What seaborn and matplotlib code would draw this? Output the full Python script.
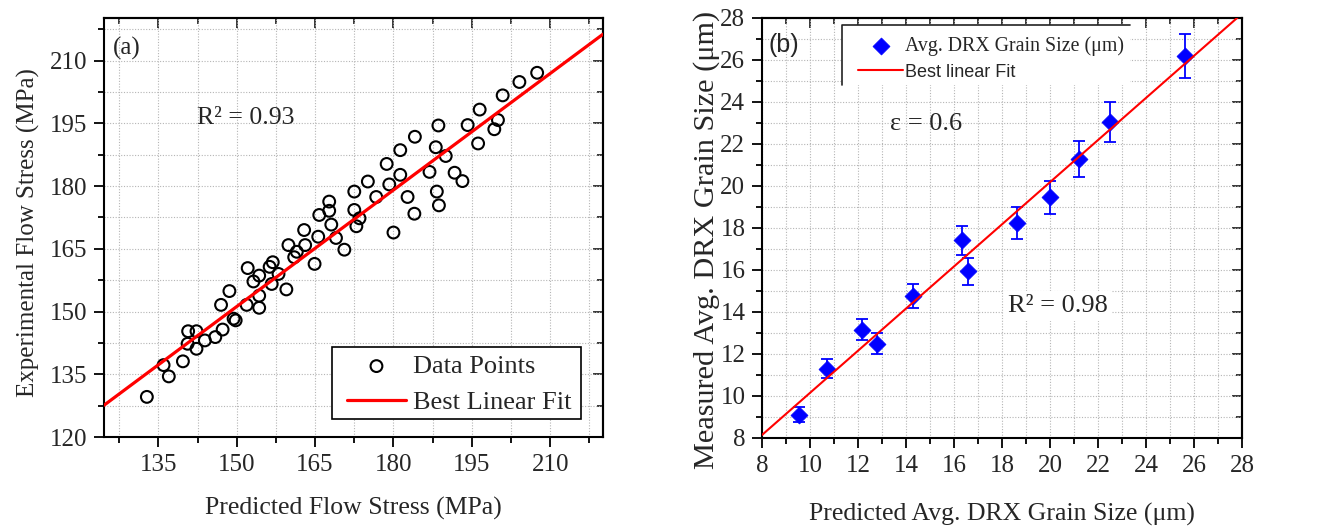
import numpy as np
import pandas as pd
import matplotlib
matplotlib.use("Agg")
import matplotlib.pyplot as plt
import seaborn as sns
from matplotlib.ticker import MultipleLocator
from matplotlib.patches import Rectangle
from matplotlib.lines import Line2D

# ---------------- data: panel (a) ----------------
pred_stress = [132.8, 136.0, 137.0, 139.7, 140.7, 142.3, 140.6, 142.3, 143.9, 145.9,
               147.3, 147.0, 148.6, 149.4, 149.8, 151.9, 152.1, 153.2, 154.3, 154.3,
               154.3, 156.3, 156.9, 156.7, 158.0, 159.5, 159.9, 161.5, 161.0, 162.9,
               163.1, 164.9, 165.6, 165.8, 167.7, 167.7, 168.1, 169.0, 170.6, 172.5,
               172.5, 172.9, 173.5, 175.1, 176.7, 178.7, 179.2, 180.0, 181.3, 181.3,
               182.7, 184.1, 184.0, 186.9, 188.1, 188.3, 188.6, 188.7, 190.0, 191.7,
               193.2, 194.2, 196.2, 196.5, 199.3, 200.0, 200.9, 204.1, 207.5]
exp_stress = [129.6, 137.2, 134.5, 138.1, 145.3, 145.3, 142.3, 141.1, 143.1, 143.9,
              145.7, 151.6, 154.9, 148.3, 147.9, 151.6, 160.4, 157.2, 158.6, 153.8,
              150.9, 160.7, 161.8, 156.6, 159.0, 155.3, 165.9, 164.3, 163.0, 169.5,
              165.9, 161.4, 167.9, 173.1, 176.3, 174.1, 170.8, 167.6, 164.8, 178.7,
              174.3, 170.4, 172.3, 181.1, 177.4, 185.3, 180.4, 168.9, 188.6, 182.7,
              177.4, 191.8, 173.4, 183.4, 189.3, 178.7, 194.5, 175.4, 187.2, 183.2,
              181.2, 194.6, 190.2, 198.3, 193.6, 195.8, 201.7, 204.9, 207.1]
fit_a_slope = 0.929
fit_a_intercept = 11.85
r2_a = "0.93"

# ---------------- data: panel (b) ----------------
pred_grain = [9.55, 10.70, 12.17, 12.79, 14.31, 16.32, 16.57, 18.61, 20.00, 21.20, 22.49, 25.61]
meas_grain = [9.11, 11.29, 13.16, 12.49, 14.75, 17.41, 15.94, 18.24, 19.46, 21.30, 23.05, 26.17]
err_grain = [0.36, 0.45, 0.50, 0.50, 0.58, 0.70, 0.65, 0.75, 0.80, 0.85, 0.95, 1.05]
fit_b_slope = 1.003
fit_b_intercept = 0.12
r2_b = "0.98"
strain = "0.6"

df_a = pd.DataFrame({"pred": pred_stress, "exp": exp_stress})
df_b = pd.DataFrame({"pred": pred_grain, "meas": meas_grain, "err": err_grain})

sns.set_theme(style="ticks")
SERIF = ["Liberation Serif", "DejaVu Serif"]
SANS = ["Liberation Sans", "DejaVu Sans"]
plt.rcParams["font.family"] = SERIF
plt.rcParams["axes.linewidth"] = 1.5

fig = plt.figure(figsize=(13.2, 5.28), dpi=100)
ax_a = fig.add_axes([0.0788, 0.1723, 0.378, 0.7936])
ax_b = fig.add_axes([0.5773, 0.1705, 0.3636, 0.7955])

TICK_FS = 18


def style(ax, xmaj, xmin, ymaj, ymin):
    ax.xaxis.set_major_locator(MultipleLocator(xmaj))
    ax.xaxis.set_minor_locator(MultipleLocator(xmin))
    ax.yaxis.set_major_locator(MultipleLocator(ymaj))
    ax.yaxis.set_minor_locator(MultipleLocator(ymin))
    ax.set_axisbelow(True)
    ax.grid(which="both", color="#b5b5b5", linestyle=(0, (1, 1.5)), linewidth=0.8)
    ax.tick_params(which="both", direction="out", top=False, right=False,
                   width=1.3, color="black", labelsize=TICK_FS, pad=5,
                   labelfontfamily="Liberation Serif")
    ax.tick_params(which="major", length=7)
    ax.tick_params(which="minor", length=4)
    for s in ax.spines.values():
        s.set_linewidth(1.5)
        s.set_color("black")
    top = ax.secondary_xaxis("top")
    top.xaxis.set_major_locator(MultipleLocator(xmaj))
    top.xaxis.set_minor_locator(MultipleLocator(xmin))
    top.tick_params(which="both", direction="in", labeltop=False, width=1.3)
    top.tick_params(which="major", length=7)
    top.tick_params(which="minor", length=4)
    top.spines["top"].set_linewidth(1.5)
    right = ax.secondary_yaxis("right")
    right.yaxis.set_major_locator(MultipleLocator(ymaj))
    right.yaxis.set_minor_locator(MultipleLocator(ymin))
    right.tick_params(which="both", direction="in", labelright=False, width=1.3)
    right.tick_params(which="major", length=7)
    right.tick_params(which="minor", length=4)
    right.spines["right"].set_linewidth(1.5)


# ---------------- panel (a) ----------------
ax_a.set_xlim(124.6, 220.1)
ax_a.set_ylim(120, 220.2)
style(ax_a, 15, 7.5, 15, 7.5)
sns.scatterplot(data=df_a, x="pred", y="exp", ax=ax_a, marker="o", s=72,
                facecolor="none", edgecolor="black", linewidth=1.5,
                label="Data Points", zorder=3)
xa = np.array(ax_a.get_xlim())
sns.lineplot(x=xa, y=fit_a_slope * xa + fit_a_intercept, ax=ax_a, color="#ff0000",
             linewidth=2.3, label="Best Linear Fit", zorder=4)
ax_a.set_xlim(124.6, 220.1)
ax_a.set_xlabel("Predicted Flow Stress (MPa)", fontsize=18.5, labelpad=15)
ax_a.set_ylabel("Experimental Flow Stress (MPa)", fontsize=18)
ax_a.yaxis.set_label_coords(-0.128, 0.489)
ax_a.text(0.018, 0.955, "(a)", transform=ax_a.transAxes, fontsize=18, va="top", ha="left")
ax_a.text(0.186, 0.747, "R\u00b2 = " + r2_a, transform=ax_a.transAxes, fontsize=18.5,
          va="baseline", ha="left")
ax_a.add_patch(Rectangle((0.457, 0.043), 0.499, 0.172, transform=ax_a.transAxes,
                         facecolor="white", edgecolor="black", linewidth=1.2, zorder=4.5))
leg_a = ax_a.legend(loc="center left", bbox_to_anchor=(0.486, 0.126), borderaxespad=0,
                    fontsize=19, frameon=False, handlelength=2.27, handletextpad=0.25,
                    borderpad=0, labelspacing=0.47)

# ---------------- panel (b) ----------------
ax_b.set_xlim(8, 28)
ax_b.set_ylim(8, 28)
style(ax_b, 2, 1, 2, 1)
ax_b.errorbar(df_b["pred"], df_b["meas"], yerr=df_b["err"], fmt="none",
              ecolor="#0000ff", elinewidth=1.3, capsize=4, capthick=1.3, zorder=3)
sns.scatterplot(data=df_b, x="pred", y="meas", ax=ax_b, marker="D", s=75,
                color="#0000ff", edgecolor="#0000ff", linewidth=0.5,
                label="Avg. DRX Grain Size (\u03bcm)", zorder=4)
xb = np.array(ax_b.get_xlim())
sns.lineplot(x=xb, y=fit_b_slope * xb + fit_b_intercept, ax=ax_b, color="#ff0000",
             linewidth=1.5, label="Best linear Fit", zorder=5)
ax_b.set_xlim(8, 28)
ax_b.set_ylim(8, 28)
ax_b.set_xlabel("Predicted Avg. DRX Grain Size (\u03bcm)", fontsize=18.5, labelpad=19)
ax_b.set_ylabel("Measured Avg. DRX Grain Size (\u03bcm)", fontsize=21.8)
ax_b.yaxis.set_label_coords(-0.088, 0.471)
ax_b.text(0.0125, 0.964, "(b)", transform=ax_b.transAxes, fontsize=18, va="top",
          ha="left", family=SANS)
ax_b.text(0.267, 0.733, "\u03b5 = " + strain, transform=ax_b.transAxes, fontsize=19,
          va="baseline", ha="left")
ax_b.text(0.512, 0.30, "R\u00b2 = " + r2_b, transform=ax_b.transAxes, fontsize=19,
          va="baseline", ha="left",
          bbox=dict(facecolor="white", edgecolor="none", pad=3), zorder=2)
# partial legend frame with white background
ax_b.add_patch(Rectangle((0.167, 0.84), 0.6, 0.143, transform=ax_b.transAxes,
                         facecolor="white", edgecolor="none", zorder=1))
ax_b.add_line(Line2D([0.167, 0.167, 0.767], [0.84, 0.983, 0.983], transform=ax_b.transAxes,
                     color="#222222", linewidth=1.2, zorder=2))
leg_b = ax_b.legend(loc="center left", bbox_to_anchor=(0.2, 0.9036), borderaxespad=0,
                    fontsize=14.3, frameon=False, handlelength=2.27, handletextpad=0.1,
                    borderpad=0, labelspacing=0.35)
leg_b.texts[1].set_family(SANS)
leg_b.texts[1].set_fontsize(13)

fig.savefig("out.png", dpi=100)
